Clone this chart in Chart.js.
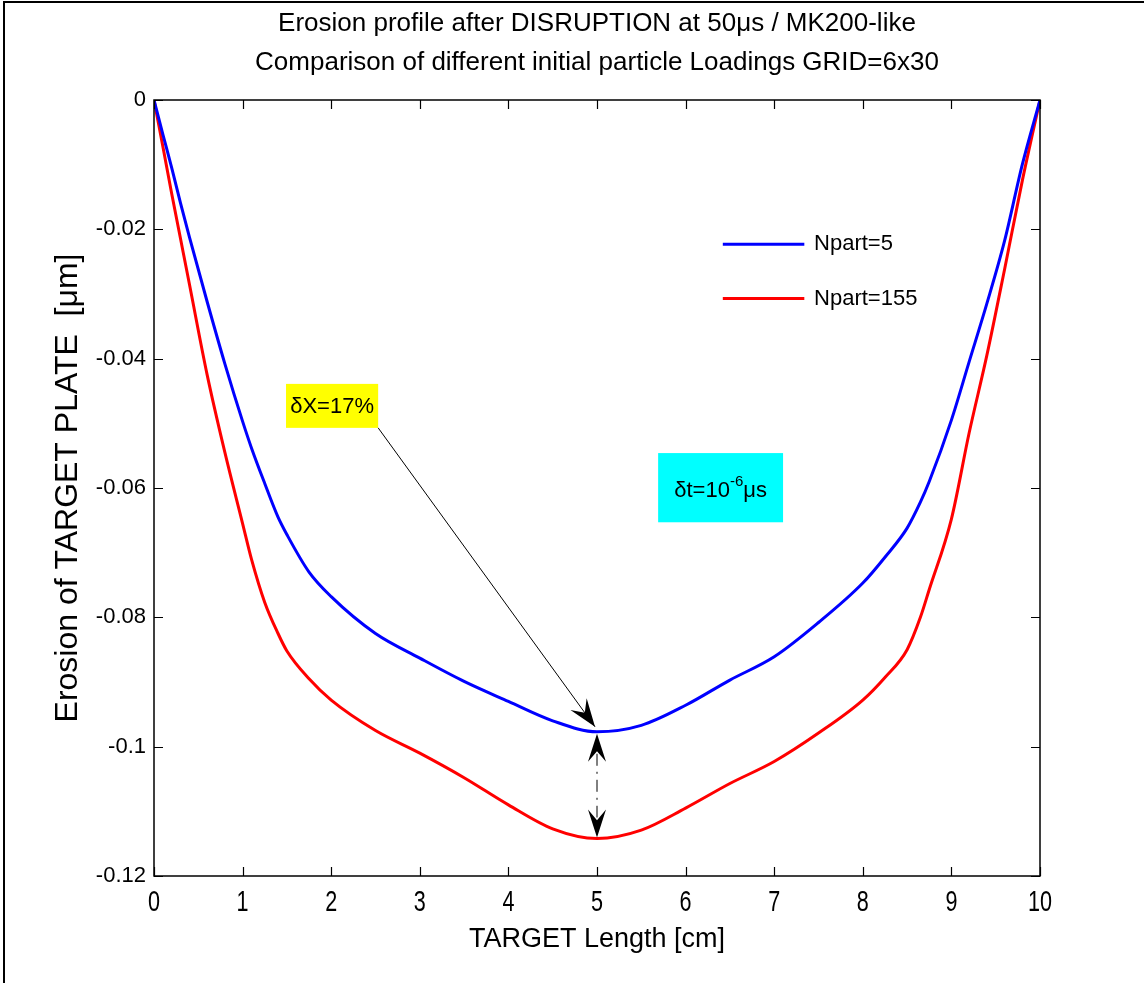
<!DOCTYPE html>
<html>
<head>
<meta charset="utf-8">
<script src="https://cdn.jsdelivr.net/npm/chart.js@4.4.1/dist/chart.umd.min.js"></script>
<style>
  html, body { margin: 0; padding: 0; background: #fff; }
  #wrap { width: 1144px; height: 983px; }
</style>
</head>
<body>
<div id="wrap"><canvas id="erosionChart" width="1144" height="983"></canvas></div>
<script>
// target length positions [cm] and eroded depth [um] for the two particle loadings
const xCm = [0, 0.1, 0.2, 0.3, 0.4, 0.6, 0.8, 1.0, 1.1, 1.25, 1.4, 1.5, 1.75, 2.0, 2.5, 3.0, 3.5, 4.0, 4.5, 5.0,
             5.5, 6.0, 6.5, 7.0, 7.5, 8.0, 8.25, 8.5, 8.65, 8.75, 9.0, 9.2, 9.4, 9.6, 9.8, 10];
const erosionN5 = [0, -0.0053, -0.0105, -0.0160, -0.0212, -0.0312, -0.0408, -0.0497, -0.0538, -0.0593, -0.0645, -0.0672,
                   -0.0730, -0.0768, -0.0825, -0.0863, -0.0899, -0.0930, -0.0960, -0.0977,
                   -0.0967, -0.0936, -0.0897, -0.0861, -0.0808, -0.0747, -0.0707, -0.0662, -0.0622,
                   -0.0590, -0.0495, -0.0405, -0.0315, -0.0218, -0.0100, 0];
const erosionN155 = [0, -0.0072, -0.0145, -0.0215, -0.0285, -0.0425, -0.0545, -0.0655, -0.0710, -0.0777, -0.0825, -0.0852,
                     -0.0895, -0.0928, -0.0975, -0.1010, -0.1048, -0.1090, -0.1127, -0.1142,
                     -0.1129, -0.1095, -0.1057, -0.1023, -0.0979, -0.0928, -0.0893, -0.0850, -0.0800,
                     -0.0757, -0.0648, -0.0515, -0.0395, -0.0262, -0.0125, 0];
const seriesLabels = ['Npart=5', 'Npart=155'];
const seriesColors = ['#0000ff', '#ff0000'];
const xTicks = [0, 1, 2, 3, 4, 5, 6, 7, 8, 9, 10];
const yTicks = [0, -0.02, -0.04, -0.06, -0.08, -0.1, -0.12];
const titleLines = ['Erosion profile after DISRUPTION at 50\u03bcs / MK200-like',
                    'Comparison of different initial particle Loadings GRID=6x30'];
const xTitle = 'TARGET Length [cm]';
const yTitle = 'Erosion of TARGET PLATE  [\u03bcm]';
const gapLabel = '\u03b4X=17%';
const xMin = 5; // where the gap between the two profiles is marked

const SANS = '"Liberation Sans", Arial, sans-serif';

Chart.defaults.color = '#000';

// filled arrow head with a notched back, pointing from (x0,y0) to (x1,y1)
function arrowHead(ctx, x0, y0, x1, y1, len, half) {
  const a = Math.atan2(y1 - y0, x1 - x0);
  ctx.save();
  ctx.translate(x1, y1);
  ctx.rotate(a);
  ctx.beginPath();
  ctx.moveTo(0, 0);
  ctx.lineTo(-len, -half);
  ctx.lineTo(-len * 0.62, 0);
  ctx.lineTo(-len, half);
  ctx.closePath();
  ctx.fill();
  ctx.restore();
}

// box around the axes, inward ticks on all four sides, narrow x tick labels,
// window frame and titles
const matlabFrame = {
  id: 'matlabFrame',
  afterDraw(chart) {
    const { ctx, chartArea: ca, scales: { x, y } } = chart;
    ctx.save();
    ctx.fillStyle = '#000';
    ctx.fillRect(3, 1, chart.width - 3, 2);
    ctx.fillRect(3, 1, 2, chart.height - 1);

    ctx.strokeStyle = '#000';
    ctx.lineWidth = 1.5;
    ctx.strokeRect(ca.left, ca.top, ca.right - ca.left, ca.bottom - ca.top);
    ctx.lineWidth = 1.2;
    ctx.beginPath();
    x.ticks.forEach(t => {
      const px = Math.round(x.getPixelForValue(t.value)) + 0.5;
      ctx.moveTo(px, ca.bottom); ctx.lineTo(px, ca.bottom - 9);
      ctx.moveTo(px, ca.top); ctx.lineTo(px, ca.top + 9);
    });
    y.ticks.forEach(t => {
      const py = Math.round(y.getPixelForValue(t.value)) + 0.5;
      ctx.moveTo(ca.left, py); ctx.lineTo(ca.left + 9, py);
      ctx.moveTo(ca.right, py); ctx.lineTo(ca.right - 9, py);
    });
    ctx.stroke();

    ctx.font = '30px ' + SANS;
    ctx.textAlign = 'center';
    ctx.textBaseline = 'top';
    x.ticks.forEach(t => {
      ctx.save();
      ctx.translate(x.getPixelForValue(t.value), ca.bottom + 12);
      ctx.scale(0.72, 1);
      ctx.fillText(String(t.value), 0, 0);
      ctx.restore();
    });

    ctx.font = '26px ' + SANS;
    ctx.textBaseline = 'middle';
    const cx = (ca.left + ca.right) / 2;
    ctx.fillText(titleLines[0], cx, 24);
    ctx.fillText(titleLines[1], cx, 63);
    ctx.restore();
  }
};

// legend, text boxes and the arrows marking the erosion difference
const notes = {
  id: 'notes',
  afterDatasetsDraw(chart) {
    const { ctx, scales: { x, y } } = chart;
    ctx.save();

    // legend
    ctx.lineWidth = 3;
    ctx.font = '22px ' + SANS;
    ctx.textBaseline = 'middle';
    ctx.textAlign = 'left';
    [-0.0223, -0.0307].forEach((yv, i) => {
      const py = y.getPixelForValue(yv);
      ctx.strokeStyle = seriesColors[i];
      ctx.beginPath();
      ctx.moveTo(x.getPixelForValue(6.42), py);
      ctx.lineTo(x.getPixelForValue(7.34), py);
      ctx.stroke();
      ctx.fillStyle = '#000';
      ctx.fillText(seriesLabels[i], x.getPixelForValue(7.45), py);
    });

    // yellow label and its arrow to the Npart=5 minimum
    const k = xCm.indexOf(xMin);
    const bx0 = x.getPixelForValue(1.49), bx1 = x.getPixelForValue(2.53);
    const by0 = y.getPixelForValue(-0.0439), by1 = y.getPixelForValue(-0.0507);
    ctx.fillStyle = '#ffff00';
    ctx.fillRect(bx0, by0, bx1 - bx0, by1 - by0);
    ctx.fillStyle = '#000';
    ctx.font = '22px ' + SANS;
    ctx.textAlign = 'center';
    ctx.fillText(gapLabel, (bx0 + bx1) / 2, (by0 + by1) / 2 + 1);

    const tipX = x.getPixelForValue(xMin) - 2;
    const tipY = y.getPixelForValue(erosionN5[k]) - 5;
    ctx.strokeStyle = '#000';
    ctx.lineWidth = 1;
    ctx.beginPath();
    ctx.moveTo(bx1, by1);
    ctx.lineTo(tipX, tipY);
    ctx.stroke();
    arrowHead(ctx, bx1, by1, tipX, tipY, 28, 10);

    // dash-dot double arrow between the two minima
    const px = x.getPixelForValue(xMin);
    const yTop = y.getPixelForValue(erosionN5[k]) + 2;
    const yBot = y.getPixelForValue(erosionN155[k]) - 1;
    ctx.setLineDash([12, 6, 2, 6]);
    ctx.beginPath();
    ctx.moveTo(px, yTop + 20);
    ctx.lineTo(px, yBot - 20);
    ctx.stroke();
    ctx.setLineDash([]);
    arrowHead(ctx, px, yBot, px, yTop, 28, 9);
    arrowHead(ctx, px, yTop, px, yBot, 28, 9);

    // cyan time step box
    const cx0 = x.getPixelForValue(5.69), cx1 = x.getPixelForValue(7.10);
    const cy0 = y.getPixelForValue(-0.0546), cy1 = y.getPixelForValue(-0.0653);
    ctx.fillStyle = '#00ffff';
    ctx.fillRect(cx0, cy0, cx1 - cx0, cy1 - cy0);
    ctx.fillStyle = '#000';
    ctx.textAlign = 'left';
    ctx.textBaseline = 'alphabetic';
    const base = (cy0 + cy1) / 2 + 9;
    const parts = [['\u03b4t=10', 22, 0], ['-6', 15, -11], ['\u03bcs', 22, 0]];
    let w = 0;
    parts.forEach(([s, f]) => { ctx.font = f + 'px ' + SANS; w += ctx.measureText(s).width; });
    let tx = (cx0 + cx1) / 2 - w / 2;
    parts.forEach(([s, f, dy]) => {
      ctx.font = f + 'px ' + SANS;
      ctx.fillText(s, tx, base + dy);
      tx += ctx.measureText(s).width;
    });
    ctx.restore();
  }
};

new Chart(document.getElementById('erosionChart'), {
  type: 'line',
  data: {
    datasets: [erosionN5, erosionN155].map((vals, i) => ({
      label: seriesLabels[i],
      data: xCm.map((xv, j) => ({ x: xv, y: vals[j] })),
      borderColor: seriesColors[i],
      borderWidth: 3,
      pointRadius: 0,
      cubicInterpolationMode: 'monotone',
      fill: false
    }))
  },
  options: {
    responsive: false,
    animation: false,
    devicePixelRatio: 1,
    layout: { padding: { top: 100, right: 104, left: 0, bottom: 0 } },
    plugins: { legend: { display: false }, tooltip: { enabled: false } },
    scales: {
      x: {
        type: 'linear',
        min: 0,
        max: 10,
        afterBuildTicks: s => { s.ticks = xTicks.map(v => ({ value: v })); },
        afterFit: s => { s.height = 107; },
        grid: { display: false, drawTicks: false },
        border: { display: false },
        ticks: { display: false },
        title: { display: true, text: xTitle, font: { family: SANS, size: 27, lineHeight: 1 }, padding: { top: 0, bottom: 30 } }
      },
      y: {
        min: -0.12,
        max: 0,
        afterBuildTicks: s => { s.ticks = yTicks.map(v => ({ value: v })); },
        afterFit: s => { s.width = 154; },
        grid: { display: false, drawTicks: false },
        border: { display: false },
        ticks: { padding: 8, font: { family: SANS, size: 22 }, callback: v => String(+v.toFixed(2)) },
        title: { display: true, text: yTitle, font: { family: SANS, size: 32, lineHeight: 1 }, padding: { top: 52, bottom: 0 } }
      }
    }
  },
  plugins: [matlabFrame, notes]
});
</script>
</body>
</html>
